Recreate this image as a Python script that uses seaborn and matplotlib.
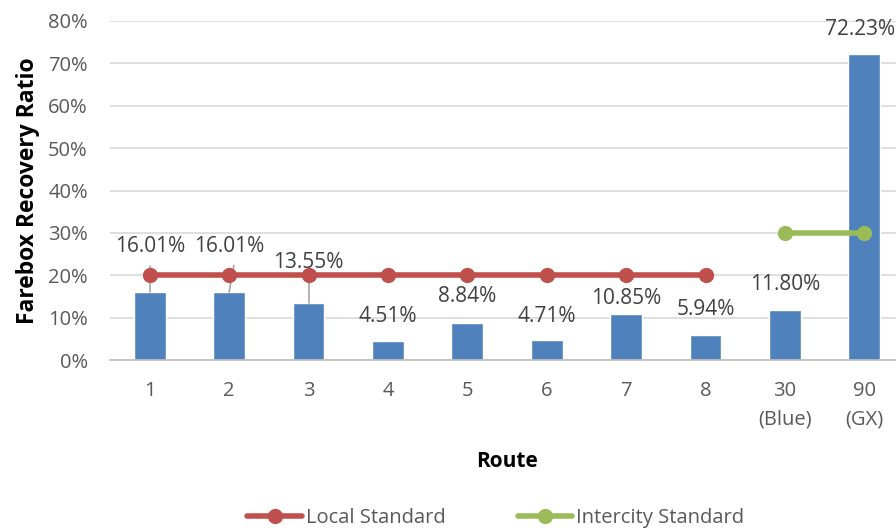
import matplotlib
matplotlib.use("Agg")
import matplotlib.pyplot as plt
import seaborn as sns
import pandas as pd

routes = ["1", "2", "3", "4", "5", "6", "7", "8", "30\n(Blue)", "90\n(GX)"]
ratios = [16.01, 16.01, 13.55, 4.51, 8.84, 4.71, 10.85, 5.94, 11.80, 72.23]
local_routes = ["1", "2", "3", "4", "5", "6", "7", "8"]
local_standard = [20, 20, 20, 20, 20, 20, 20, 20]
intercity_routes = ["30\n(Blue)", "90\n(GX)"]
intercity_standard = [30, 30]
y_ticks = [0, 10, 20, 30, 40, 50, 60, 70, 80]

sns.set_theme(style="white")
plt.rcParams["font.family"] = ["Open Sans", "DejaVu Sans"]

fig = plt.figure(figsize=(8.96, 5.31), dpi=100)
ax = fig.add_axes([110 / 896, 1 - 360 / 531, 794 / 896, 339 / 531])

df = pd.DataFrame({"Route": routes, "Ratio": ratios})
sns.barplot(data=df, x="Route", y="Ratio", color="#4F81BD", width=0.4,
            saturation=1, ax=ax, zorder=2)

pos = {r: i for i, r in enumerate(routes)}
ldf = pd.DataFrame({"x": [pos[r] for r in local_routes], "y": local_standard})
idf = pd.DataFrame({"x": [pos[r] for r in intercity_routes], "y": intercity_standard})
sns.lineplot(data=ldf, x="x", y="y", color="#C0504D", linewidth=4, marker="o",
             markersize=11, markeredgewidth=0, ax=ax, zorder=4, label="Local Standard")
sns.lineplot(data=idf, x="x", y="y", color="#9BBB59", linewidth=4, marker="o",
             markersize=11, markeredgewidth=0, ax=ax, zorder=4, label="Intercity Standard")

# value labels (some lifted above the standard line with leader lines)
label_y = [26.9, 26.9, 23.0, 10.2, 14.9, 10.2, 14.5, 12.0, 17.7, 78.0]
label_dx = [0, 0, 0, 0, 0, 0, 0, 0, 0, -0.05]
for i, v in enumerate(ratios):
    ax.text(i + label_dx[i], label_y[i], f"{v:.2f}%", ha="center", va="center",
            fontsize=15, color="#404040", zorder=5)
leaders = [(0, 0, 22.3), (1, 0.06, 22.3), (2, 0, 18.5)]
for i, dx, ytop in leaders:
    ax.plot([i + dx, i], [ytop, ratios[i]], color="#A6A6A6", linewidth=1.2, zorder=3)

ax.set_xlim(-0.5, 9.5)
ax.set_ylim(0, 80)
ax.set_yticks(y_ticks)
ax.set_yticklabels([f"{t}%" for t in y_ticks])
ax.yaxis.grid(True, color="#D9D9D9", linewidth=1.2, zorder=0)
ax.set_axisbelow(True)
for s in ["top", "right", "left"]:
    ax.spines[s].set_visible(False)
ax.spines["bottom"].set_color("#BFBFBF")
ax.spines["bottom"].set_linewidth(1.2)
ax.tick_params(axis="both", length=0, labelsize=14.5, labelcolor="#595959")
ax.tick_params(axis="y", pad=16)
ax.tick_params(axis="x", pad=15)
ax.set_xlabel("Route", fontsize=15, fontweight="bold", color="black", labelpad=16)
ax.set_ylabel("Farebox Recovery Ratio", fontsize=16.5, fontweight="bold",
              color="black", labelpad=6)
for lbl in ax.get_xticklabels():
    lbl.set_linespacing(1.55)

ax.legend(loc="center", bbox_to_anchor=(496 / 896, 1 - 518 / 531),
          bbox_transform=fig.transFigure, ncol=2, frameon=False,
          fontsize=14.5, handlelength=2.7, handletextpad=0.2, columnspacing=3.6,
          labelcolor="#595959")

fig.savefig("out.png", dpi=100)
